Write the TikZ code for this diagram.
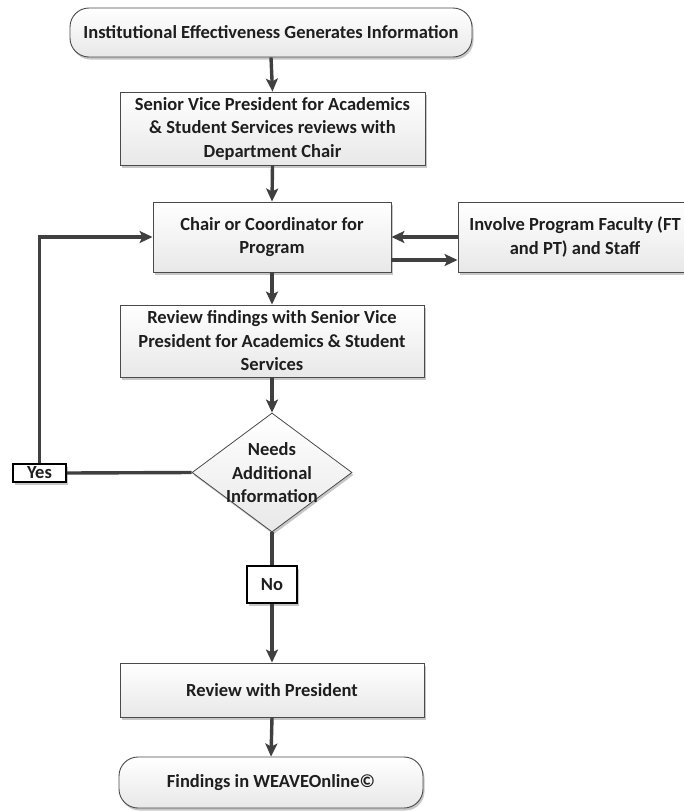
\documentclass[tikz,border=0pt]{standalone}
\usepackage{fontspec}
\setmainfont{Carlito}
\usetikzlibrary{shapes.geometric,shadows,arrows.meta}
\definecolor{linegray}{HTML}{404040}
\definecolor{edgegray}{HTML}{4A4A4A}
\definecolor{inkdark}{HTML}{1E1E1E}
\tikzset{
  x=1pt, y=-1pt,
  txt/.style={font=\bfseries\fontsize{18.5}{23.5}\selectfont, text=inkdark, align=center},
  softshadow/.style={drop shadow={shadow xshift=1.5pt, shadow yshift=-2.5pt, fill=black!40, opacity=0.55}},
  box/.style={txt, draw=edgegray, line width=0.9pt, top color=white, bottom color=black!9,
    inner sep=0pt, softshadow},
  term/.style={box, rounded corners=19pt},
  decisionshape/.style={diamond, draw=edgegray, line width=0.8pt, top color=white, bottom color=black!9,
    inner sep=0pt, softshadow},
  tag/.style={txt, draw=black, line width=1.6pt, fill=white, inner sep=0pt, softshadow},
  arr/.style={draw=linegray, line width=3.4pt, -{Stealth[length=13pt,width=12pt,inset=3pt]}},
  conn/.style={draw=linegray, line width=3.4pt},
}
\begin{document}
\begin{tikzpicture}
\useasboundingbox (0,0) rectangle (684,812);
\clip (0,0) rectangle (684,812);
\fill[white] (0,0) rectangle (684,812);

% process steps
\node[term, minimum width=402pt, minimum height=49pt] (start) at (271,32.5)
  {Institutional Effectiveness Generates Information};
\node[box, minimum width=305pt, minimum height=73pt] (svp) at (272.5,128.5)
  {Senior Vice President for Academics\\ \& Student Services reviews with\\ Department Chair};
\node[box, minimum width=238pt, minimum height=70pt] (chair) at (272,237)
  {Chair or Coordinator for\\ Program};
\node[box, minimum width=234pt, minimum height=70pt] (involve) at (575,237)
  {Involve Program Faculty (FT\\ and PT) and Staff};
\node[box, minimum width=304pt, minimum height=72pt] (review) at (272,341)
  {Review findings with Senior Vice\\ President for Academics \& Student\\ Services};
\node[decisionshape, minimum width=160pt, minimum height=119pt] (decision) at (272,472.5) {};
\node[txt] (decisiontext) at (272,473) {Needs\\ Additional\\ Information};
\node[tag, minimum width=53pt, minimum height=18pt] (yes) at (39.5,473) {Yes};
\node[tag, minimum width=50pt, minimum height=37pt] (no) at (272,584.5) {No};
\node[box, minimum width=304pt, minimum height=54pt] (pres) at (272,690)
  {Review with President};
\node[term, minimum width=304pt, minimum height=51pt] (finish) at (271,782.5)
  {Findings in WEAVEOnline©};

% connectors
\draw[arr] (start.south) -- (svp.north);
\draw[arr] (svp.south) -- (chair.north);
\draw[arr] (involve.west) -- (chair.east);
\draw[arr] ([yshift=-23pt]chair.east) -- ([yshift=-23pt]involve.west);
\draw[arr] (chair.south) -- (review.north);
\draw[arr] (review.south) -- (decision.north);
\draw[conn] (decision.west) -- (yes.east);
\draw[arr] (yes.north) |- (chair.west);
\draw[conn] (decision.south) -- (no.north);
\draw[arr] (no.south) -- (pres.north);
\draw[arr] (pres.south) -- (finish.north);
\end{tikzpicture}
\end{document}
